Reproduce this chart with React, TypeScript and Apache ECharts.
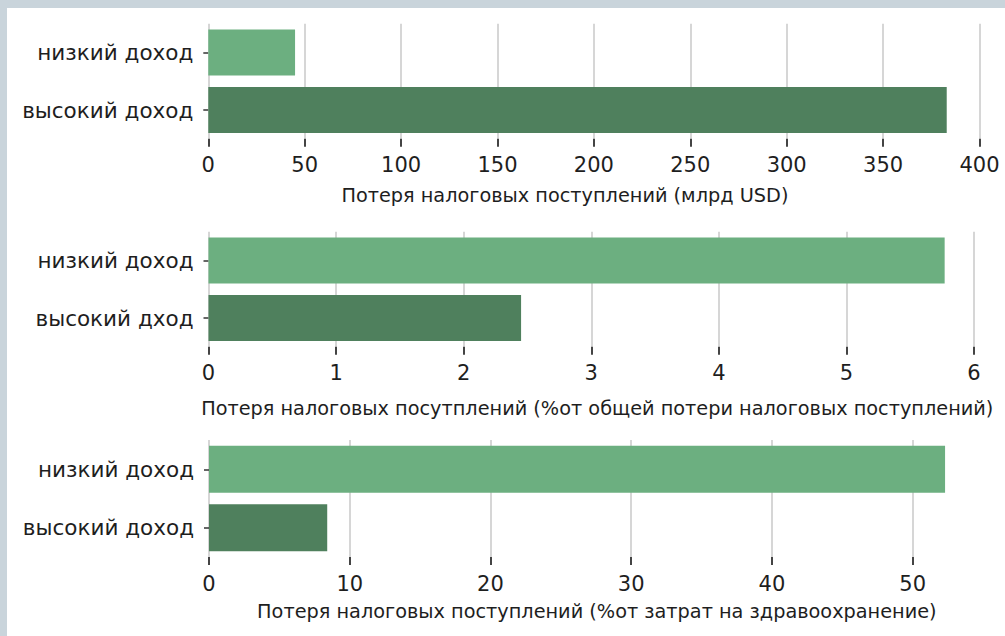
import React, { useEffect, useRef } from "react";
import * as echarts from "echarts";

const categoriesA = ["низкий доход", "высокий доход"];
const categoriesB = ["низкий доход", "высокий дход"];
const revenueLossUsd = [45, 383];
const shareOfTotalLoss = [5.77, 2.45];
const shareOfHealthSpend = [52.3, 8.4];
const titles = [
  "Потеря налоговых поступлений (млрд USD)",
  "Потеря налоговых посутплений (%от общей потери налоговых поступлений)",
  "Потеря налоговых поступлений (%от затрат на здравоохранение)",
];

const LIGHT = "#6caf80";
const DARK = "#4f805d";
const FONT = "DejaVu Sans";
const TEXT = "#1e1e1e";

export default function App() {
  const ref = useRef<HTMLDivElement>(null);
  useEffect(() => {
    if (!ref.current) return;
    const chart = echarts.init(ref.current, null, { renderer: "svg" });
    const grids = [
      { left: 208.3, top: 23.75, width: 771.2, height: 115 },
      { left: 208.5, top: 231.75, width: 765.5, height: 115 },
      { left: 209, top: 440, width: 703.7, height: 117 },
    ];
    const axisMax = [400, 6, 50];
    const axisInterval = [50, 1, 10];
    const namePad = [
      [0, 58, 0, 0],
      [0, 0, 0, 12],
      [0, 0, 0, 72],
    ];
    const nameGaps = [47, 52, 45];
    const xAxes = grids.map((_, i) => ({
      type: "value",
      gridIndex: i,
      min: 0,
      max: axisMax[i],
      interval: axisInterval[i],
      axisLine: { show: false },
      axisTick: { show: true, length: 8, lineStyle: { color: "#444", width: 2 } },
      axisLabel: { fontFamily: FONT, fontSize: 21, color: TEXT, margin: 16 },
      splitLine: { show: true, lineStyle: { color: "#c8c8c8", width: 1.5 } },
      name: titles[i],
      nameLocation: "middle",
      nameGap: nameGaps[i],
      nameTextStyle: { fontFamily: FONT, fontSize: 19.3, color: TEXT, padding: namePad[i] },
    }));
    const yAxes = grids.map((_, i) => ({
      type: "category",
      gridIndex: i,
      inverse: true,
      data: i === 1 ? categoriesB : categoriesA,
      axisLine: { show: false },
      axisTick: { show: true, alignWithLabel: true, length: 5, lineStyle: { color: "#333", width: 1.5 } },
      axisLabel: { fontFamily: FONT, fontSize: 21.5, color: TEXT, margin: 15 },
      splitLine: { show: false },
    }));
    const values = [revenueLossUsd, shareOfTotalLoss, shareOfHealthSpend];
    const series = values.map((vals, i) => ({
      type: "bar",
      xAxisIndex: i,
      yAxisIndex: i,
      barCategoryGap: "20%",
      clip: false,
      data: vals.map((v, j) => ({ value: v, itemStyle: { color: j === 0 ? LIGHT : DARK } })),
    }));
    chart.setOption({
      animation: false,
      backgroundColor: "#ffffff",
      grid: grids,
      xAxis: xAxes,
      yAxis: yAxes,
      series,
      graphic: [
        { type: "rect", z: -10, shape: { x: 0, y: 0, width: 1005, height: 8 }, style: { fill: "#c9d4db" } },
        { type: "rect", z: -10, shape: { x: 0, y: 0, width: 7, height: 636 }, style: { fill: "#c9d4db" } },
      ],
    });
    return () => chart.dispose();
  }, []);
  return (
    <div
      ref={ref}
      style={{ position: "fixed", left: 0, top: 0, width: 1005, height: 636 }}
    />
  );
}
